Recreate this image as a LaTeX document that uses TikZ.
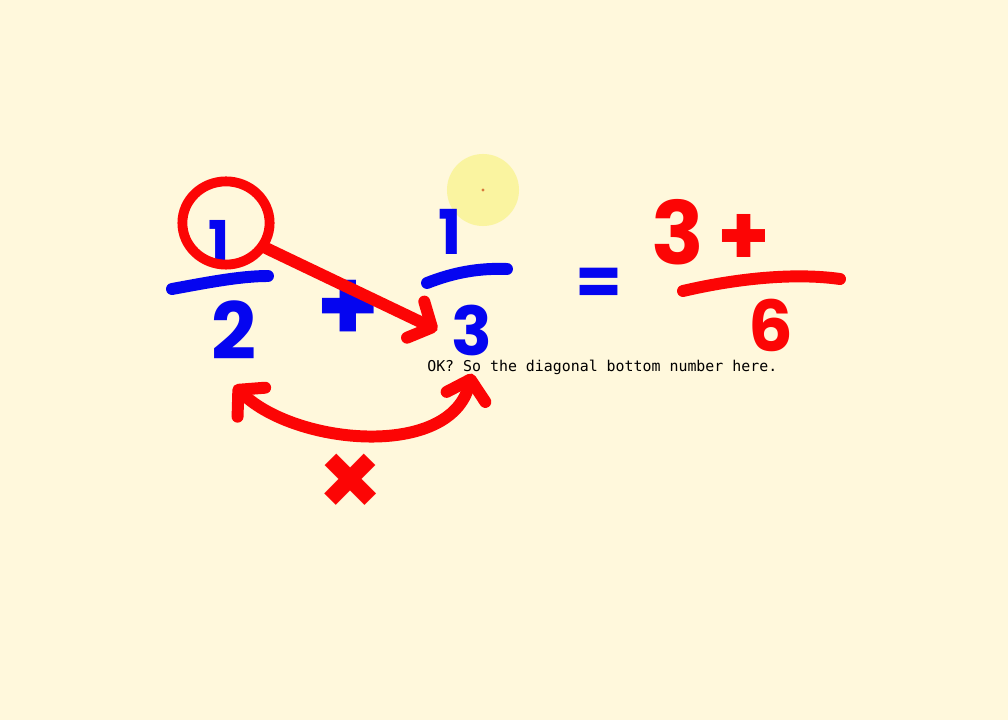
\documentclass[tikz,border=0pt]{standalone}
\usepackage{fontspec}
\usepackage{tikz}
\usetikzlibrary{arrows.meta,shapes.geometric}
\newfontfamily\penfont{Poppins}
\newfontfamily\notefont{DejaVu Sans Mono}
\definecolor{board}{RGB}{255,248,220}
\definecolor{penblue}{RGB}{5,5,240}
\definecolor{penred}{RGB}{252,5,5}
\definecolor{spot}{RGB}{250,244,160}
\definecolor{spotdot}{RGB}{215,120,60}
\tikzset{
  digit/.style args={#1/#2}{inner sep=0pt, text=#1,
               font=\penfont\bfseries\fontsize{#2}{#2}\selectfont},
  pen/.style={draw=#1, line width=8.5pt, line cap=round, line join=round},
  ring/.style={ellipse, draw=penred, line width=7pt, inner sep=0pt,
               minimum width=2.18cm, minimum height=2.08cm},
  arr/.style={-{Straight Barb[length=4.5mm, width=10mm, round]}},
  dblarr/.style={{Straight Barb[length=4.5mm, width=10mm, round]}-{Straight Barb[length=4.5mm, width=10mm, round]}},
  note/.style={inner sep=0pt, text=black, font=\notefont\fontsize{10.6}{12}\selectfont},
}
\begin{document}
\begin{tikzpicture}[x=0.025cm, y=-0.025cm]
  \useasboundingbox (0,0) rectangle (1008,720);
  \fill[board] (0,0) rectangle (1008,720);
  % pointer spot
  \fill[spot] (483,190) circle[radius=0.9cm];
  \fill[spotdot] (483,190) circle[radius=1.2pt];
  % left fraction
  \node[digit=penblue/40] (oneL) at (219,241) {1};
  \node[digit=penblue/56] (twoL) at (234,330) {2};
  \draw[pen=penblue] (172,289) .. controls (205,283) and (240,276) .. (268,276);
  \node[digit=penblue/72] (plusL) at (348,311) {+};
  % right fraction
  \node[digit=penblue/44] (oneR) at (450,232) {1};
  \node[digit=penblue/48] (threeR) at (472,330) {3};
  \draw[pen=penblue] (427,283) .. controls (455,272) and (480,268) .. (507,269);
  \node[digit=penblue/48] (eq) at (599,287) {=};
  % result
  \node[digit=penred/62] (threeS) at (678,232) {3};
  \node[digit=penred/60] (plusS) at (744,240) {+};
  \draw[pen=penred] (683,291) .. controls (730,280) and (790,272) .. (840,279);
  \node[digit=penred/50] (sixS) at (771,325) {6};
  % cross multiplication
  \node[ring] (ringL) at (226,223) {};
  \draw[pen=penred, arr] (ringL.-32) -- ([xshift=-0.35cm]threeR.west);
  \draw[pen=penred, dblarr] ([yshift=-0.65cm]twoL.south)
    .. controls +(63,60) and +(-22,85) .. ([yshift=-0.45cm]threeR.south);
  \node[digit=penred/74] (times) at (351,485) {×};
  \node[note, anchor=base west] (say) at (427,372) {OK? So the diagonal bottom number here.};
\end{tikzpicture}
\end{document}
